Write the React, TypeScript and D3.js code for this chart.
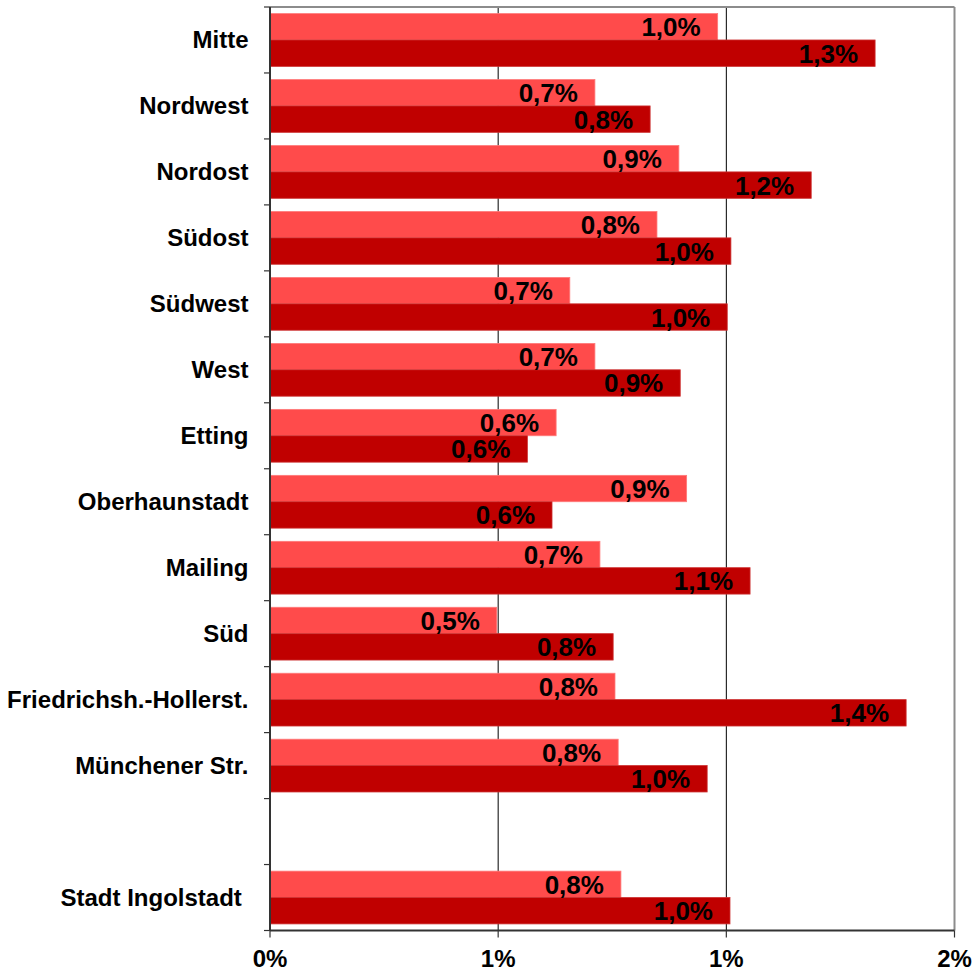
import React from "react";
import * as d3 from "d3";

const categories = [
  "Mitte",
  "Nordwest",
  "Nordost",
  "Südost",
  "Südwest",
  "West",
  "Etting",
  "Oberhaunstadt",
  "Mailing",
  "Süd",
  "Friedrichsh.-Hollerst.",
  "Münchener Str.",
  "",
  "Stadt Ingolstadt ",
];

const seriesLight: (number | null)[] = [
  0.981, 0.712, 0.896, 0.848, 0.657, 0.712, 0.627, 0.913, 0.723, 0.497, 0.756, 0.763, null, 0.769,
];
const seriesDark: (number | null)[] = [
  1.326, 0.833, 1.186, 1.01, 1.002, 0.899, 0.564, 0.618, 1.052, 0.752, 1.394, 0.958, null, 1.008,
];

const xTicks = [0, 0.5, 1.0, 1.5];
const xTickLabels = ["0%", "1%", "1%", "2%"];

const W = 973;
const H = 972;
const left = 270;
const right = 954.5;
const top = 7;
const bottom = 930.5;
const FONT = "Arial, 'Liberation Sans', Helvetica, sans-serif";

export default function App() {
  const keys = categories.map((c, i) => `${i}`);
  const x = d3.scaleLinear().domain([0, 1.5]).range([left, right]);
  const y = d3
    .scaleBand<string>()
    .domain(keys)
    .range([top, bottom])
    .paddingInner(0.2)
    .paddingOuter(0.1);
  const step = y.step();
  const bw = y.bandwidth();
  const half = bw / 2;
  const fmt = (v: number) => d3.format(".1f")(v).replace(".", ",") + "%";

  const series = [
    { values: seriesLight, fill: "#FF4B4B", stroke: "#FF7A7A", offset: 0 },
    { values: seriesDark, fill: "#C00000", stroke: "#CC3030", offset: half },
  ];

  return (
    <svg
      width={W}
      height={H}
      style={{ position: "absolute", left: 0, top: 0, background: "#fff" }}
      fontFamily={FONT}
    >
      <rect x={0} y={0} width={W} height={H} fill="#fff" />
      {/* gridlines */}
      {xTicks.slice(1, -1).map((t) => (
        <line key={t} x1={x(t)} x2={x(t)} y1={top} y2={bottom} stroke="#000" strokeWidth={1} />
      ))}
      {/* bars */}
      {series.map((s, si) =>
        s.values.map((v, i) =>
          v == null ? null : (
            <rect
              key={`${si}-${i}`}
              x={x(0)}
              y={(y(keys[i]) as number) + s.offset}
              width={x(v) - x(0)}
              height={half}
              fill={s.fill}
              stroke={s.stroke}
              strokeWidth={0.8}
            />
          )
        )
      )}
      {/* data labels */}
      {series.map((s, si) =>
        s.values.map((v, i) =>
          v == null ? null : (
            <text
              key={`l${si}-${i}`}
              x={x(v) - 17}
              y={(y(keys[i]) as number) + s.offset + half / 2 + 9.5}
              textAnchor="end"
              fontSize={26}
              fontWeight="bold"
              fill="#000"
            >
              {fmt(v)}
            </text>
          )
        )
      )}
      {/* border top/right */}
      <line x1={left} x2={right} y1={top} y2={top} stroke="#8c8c8c" strokeWidth={2} />
      <line x1={right} x2={right} y1={top} y2={bottom} stroke="#8c8c8c" strokeWidth={2} />
      {/* left axis */}
      <line x1={left} x2={left} y1={top} y2={bottom} stroke="#333" strokeWidth={2} />
      {d3.range(categories.length + 1).map((i) => (
        <line
          key={`yt${i}`}
          x1={left - 6}
          x2={left}
          y1={top + i * step}
          y2={top + i * step}
          stroke="#333"
          strokeWidth={1.2}
        />
      ))}
      {categories.map((c, i) => (
        <text
          key={`c${i}`}
          x={248.5}
          y={(y(keys[i]) as number) + half + 8.5}
          textAnchor="end"
          fontSize={24}
          fontWeight="bold"
          fill="#000"
          style={{ whiteSpace: "pre" }}
        >
          {c}
        </text>
      ))}
      {/* bottom axis */}
      <line x1={left} x2={right} y1={bottom} y2={bottom} stroke="#333" strokeWidth={2} />
      {xTicks.map((t, i) => (
        <g key={`xt${i}`}>
          <line x1={x(t)} x2={x(t)} y1={bottom} y2={bottom + 7} stroke="#333" strokeWidth={1.2} />
          <text
            x={x(t)}
            y={967}
            textAnchor="middle"
            fontSize={24}
            fontWeight="bold"
            fill="#000"
          >
            {xTickLabels[i]}
          </text>
        </g>
      ))}
    </svg>
  );
}
